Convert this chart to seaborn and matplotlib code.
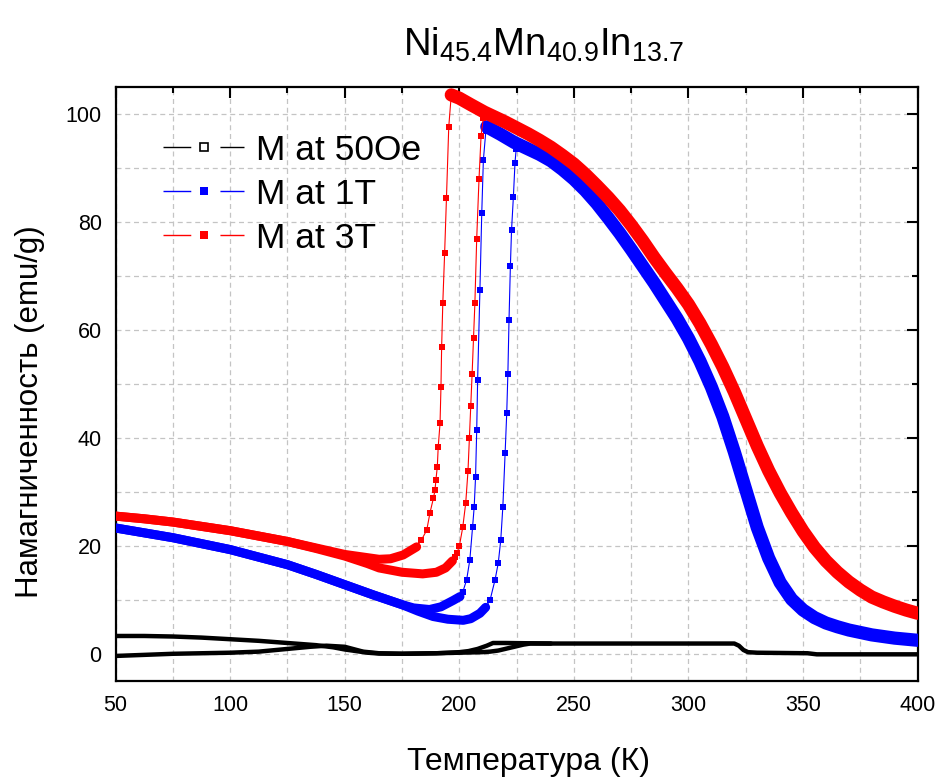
import numpy as np
import pandas as pd
import matplotlib
matplotlib.use("Agg")
import matplotlib.pyplot as plt
from matplotlib.lines import Line2D
from matplotlib.ticker import MultipleLocator
import seaborn as sns

# ---------------- data ----------------
# M at 3T (red)
t3_cool_hi_T = [400, 395, 390, 385, 380, 375, 370, 365, 360, 355, 350, 345, 340, 335, 330, 325, 320, 315,
                310, 305, 300, 295, 290, 285, 280, 275, 270, 265, 260, 255, 250, 245, 240, 235, 230, 225,
                220, 215, 211, 205, 200, 196.5]
t3_cool_hi_M = [7.6, 8.2, 8.9, 9.7, 10.6, 11.9, 13.4, 15.2, 17.3, 19.8, 22.8, 26.2, 29.9, 34.0, 38.6, 43.6,
                48.6, 53.2, 57.4, 61.3, 64.8, 67.8, 70.6, 73.5, 76.6, 79.5, 82.2, 84.6, 86.8, 88.9, 90.8,
                92.4, 93.9, 95.2, 96.4, 97.5, 98.6, 99.6, 100.4, 101.8, 103.0, 103.6]
t3_cool_drop_T = [196.5, 195.4, 194.4, 193.6, 192.8, 192.3, 192.0, 191.6, 190.8, 190.4, 189.8, 189.4,
                  188.7, 187.2, 185.8, 183.5, 181.4]
t3_cool_drop_M = [103.6, 97.7, 84.5, 74.3, 65.0, 57.0, 49.5, 42.8, 38.4, 34.7, 32.3, 30.4,
                  28.9, 26.2, 23.0, 21.2, 19.9]
t3_cool_lo_T = [181.4, 175.5, 170, 165, 160, 150, 137.5, 125, 112.5, 100, 87.5, 75, 62.5, 50]
t3_cool_lo_M = [19.9, 18.4, 17.7, 17.6, 17.9, 18.5, 19.7, 20.9, 21.9, 22.9, 23.7, 24.5, 25.1, 25.6]
t3_heat_lo_T = [50, 62.5, 75, 87.5, 100, 112.5, 125, 137.5, 150, 160, 165, 175, 184, 190, 194, 197]
t3_heat_lo_M = [25.6, 25.1, 24.5, 23.7, 22.9, 21.9, 20.9, 19.6, 18.2, 16.8, 16.0, 15.2, 14.9, 15.2, 16.0, 17.3]
t3_heat_rise_T = [197, 198.2, 199, 200, 201.5, 202.8, 203.8, 204.4, 205.0, 205.6, 206.2, 206.8, 207.6,
                  208.6, 209.5, 210.5]
t3_heat_rise_M = [17.3, 18.0, 18.8, 20.0, 23.5, 28.0, 34.0, 40.0, 46.0, 52.0, 58.5, 65.0, 77.0,
                  88.0, 96.0, 99.4]

# M at 1T (blue)
t1_cool_hi_T = [400, 390, 380, 370, 365, 360, 355, 350, 345, 340, 335, 330, 325, 320, 315, 310, 305,
                300, 295, 290, 285, 280, 275, 270, 265, 260, 255, 250, 245, 240, 235, 230, 224, 218, 212]
t1_cool_hi_M = [2.6, 3.0, 3.6, 4.5, 5.1, 5.8, 6.8, 8.2, 10.2, 13.3, 17.8, 23.5, 30.5, 37.5, 44.0, 49.5, 54.3,
                58.5, 62.2, 65.5, 68.8, 71.9, 75.0, 78.0, 80.8, 83.5, 85.9, 88.0, 89.8, 91.4, 92.6, 93.6,
                94.8, 96.3, 97.7]
t1_cool_drop_T = [212, 211.6, 210.5, 209.8, 209.0, 208.0, 207.6, 207.1, 206.5, 205.8, 204.6, 203.2,
                  201.5, 200.3]
t1_cool_drop_M = [97.7, 97.0, 91.5, 81.7, 67.5, 50.8, 41.5, 32.9, 27.3, 23.6, 17.5, 13.8, 11.5, 10.7]
t1_cool_lo_T = [200.3, 197.4, 192, 187, 180, 175, 162.5, 150, 137.5, 125, 112.5, 100, 87.5, 75, 62.5, 50]
t1_cool_lo_M = [10.7, 10.0, 8.8, 8.3, 8.6, 9.2, 11.0, 12.9, 14.8, 16.6, 18.0, 19.4, 20.5, 21.6, 22.5, 23.4]
t1_heat_lo_T = [50, 62.5, 75, 87.5, 100, 112.5, 125, 137.5, 150, 162.5, 175, 182, 188.6, 195, 201.7, 205,
                209, 211.5]
t1_heat_lo_M = [23.4, 22.5, 21.6, 20.5, 19.4, 18.0, 16.6, 14.8, 12.9, 11.0, 9.2, 8.0, 7.0, 6.5, 6.3, 6.6,
                7.6, 8.7]
t1_heat_rise_T = [211.5, 213.4, 215.6, 217.0, 218.1, 219.0, 220.0, 220.7, 221.2, 221.7, 222.3, 222.8,
                  223.6, 224.3, 224.8]
t1_heat_rise_M = [8.7, 10.0, 13.8, 16.9, 21.2, 27.3, 37.3, 44.7, 52.0, 62.0, 72.0, 78.6, 84.7, 91.0, 93.5]

# M at 50 Oe (black)
t0_cool_T = [400, 380, 356, 352, 330, 326, 324, 322, 320, 300, 280, 260, 240, 230, 220, 214.7, 212, 208,
             204, 200, 190, 175, 165, 160, 155, 150, 145, 137.5, 125, 112.5, 100, 87.5, 75, 62.5, 50]
t0_cool_M = [0.0, 0.0, 0.0, 0.2, 0.3, 0.4, 0.8, 1.6, 2.0, 2.0, 2.0, 2.0, 2.0, 2.05, 2.1, 2.1, 1.6, 1.0,
             0.6, 0.4, 0.2, 0.1, 0.15, 0.3, 0.6, 0.9, 1.3, 1.7, 2.1, 2.5, 2.8, 3.1, 3.3, 3.4, 3.4]
t0_heat_T = [50, 62.5, 75, 87.5, 100, 112.5, 125, 135, 142, 150, 158, 165, 175, 190, 200, 210, 213.4, 217,
             220, 224, 228, 231, 240]
t0_heat_M = [-0.3, -0.1, 0.1, 0.2, 0.3, 0.5, 1.0, 1.4, 1.6, 1.4, 0.5, 0.2, 0.1, 0.2, 0.3, 0.4, 0.5, 0.7,
             1.0, 1.4, 1.8, 2.0, 2.0]

series_labels = ["M at 50Oe", "M at 1T", "M at 3T"]
x_ticks = [50, 100, 150, 200, 250, 300, 350, 400]
y_ticks = [0, 20, 40, 60, 80, 100]
title_text = r"Ni$_{45.4}$Mn$_{40.9}$In$_{13.7}$"
xlabel_text = "Температура (К)"
ylabel_text = "Намагниченность (emu/g)"

# ---------------- style ----------------
sns.set_theme(style="white")
plt.rcParams["font.family"] = ["Liberation Sans", "DejaVu Sans"]
plt.rcParams["mathtext.default"] = "regular"
plt.rcParams["text.color"] = "black"
plt.rcParams["axes.labelcolor"] = "black"
plt.rcParams["xtick.color"] = "black"
plt.rcParams["ytick.color"] = "black"

RED = "#ff0000"
BLUE = "#0000ff"
BLACK = "#000000"

fig = plt.figure(figsize=(9.47, 7.8), dpi=100)
ax = fig.add_axes([0.122, 0.1265, 0.847, 0.7615])


def band(T, M, color, lw):
    sns.lineplot(x=T, y=M, sort=False, estimator=None, color=color, linewidth=lw,
                 solid_capstyle="round", solid_joinstyle="round", ax=ax, legend=False, zorder=3)


def sweep(T, M, color):
    sns.lineplot(x=T, y=M, sort=False, estimator=None, color=color, linewidth=0.8,
                 marker="s", markersize=4, markeredgewidth=0, markerfacecolor=color,
                 ax=ax, legend=False, zorder=3)


# black
band(t0_cool_T, t0_cool_M, BLACK, 3.2)
band(t0_heat_T, t0_heat_M, BLACK, 3.2)

# blue
band(t1_cool_hi_T, t1_cool_hi_M, BLUE, 9.5)
sweep(t1_cool_drop_T, t1_cool_drop_M, BLUE)
band(t1_cool_lo_T, t1_cool_lo_M, BLUE, 6.5)
band(t1_heat_lo_T, t1_heat_lo_M, BLUE, 6.5)
sweep(t1_heat_rise_T, t1_heat_rise_M, BLUE)

# red
band(t3_cool_hi_T, t3_cool_hi_M, RED, 9.5)
sweep(t3_cool_drop_T, t3_cool_drop_M, RED)
band(t3_cool_lo_T, t3_cool_lo_M, RED, 6.5)
band(t3_heat_lo_T, t3_heat_lo_M, RED, 6.5)
sweep(t3_heat_rise_T, t3_heat_rise_M, RED)

# axes
ax.set_xlim(50, 400)
ax.set_ylim(-5, 105)
ax.set_xticks(x_ticks)
ax.set_yticks(y_ticks)
ax.xaxis.set_minor_locator(MultipleLocator(25))
ax.yaxis.set_minor_locator(MultipleLocator(10))
ax.set_axisbelow(True)
ax.grid(which="both", color="#c4c4c4", linestyle=(0, (4, 3)), linewidth=0.9)
ax.tick_params(which="both", direction="in", top=True, right=True, colors="black",
               labelsize=15.5, width=1.5)
ax.tick_params(which="major", length=8, pad=10)
ax.tick_params(which="minor", length=4.5)
for s in ax.spines.values():
    s.set_color("black")
    s.set_linewidth(1.6)
ax.set_xlabel("")
ax.set_ylabel("")

# legend
handles = [
    Line2D([], [], color=BLACK, lw=1.0, linestyle=(0, (20, 21)), marker="s", markersize=6,
           markerfacecolor="white", markeredgecolor=BLACK, markeredgewidth=1.2),
    Line2D([], [], color=BLUE, lw=1.0, linestyle=(0, (20, 21)), marker="s", markersize=6,
           markerfacecolor=BLUE, markeredgewidth=0),
    Line2D([], [], color=RED, lw=1.0, linestyle=(0, (20, 21)), marker="s", markersize=6,
           markerfacecolor=RED, markeredgewidth=0),
]
leg = ax.legend(handles, series_labels, loc="upper left", bbox_to_anchor=(0.059, 0.922),
                frameon=False, fontsize=25.5, handlelength=2.3, handletextpad=0.34,
                labelspacing=0.31, borderpad=0, borderaxespad=0)
for t in leg.get_texts():
    t.set_color("black")

fig.text(544 / 947, 1 - 45 / 780, title_text, ha="center", va="center", fontsize=27.5, color="black")
fig.text(30 / 947, 1 - 412 / 780, ylabel_text, ha="center", va="center", rotation=90, fontsize=22.5,
         color="black")
fig.text(528 / 947, 1 - 762 / 780, xlabel_text, ha="center", va="center", fontsize=23, color="black")

fig.savefig("out.png", dpi=100)
